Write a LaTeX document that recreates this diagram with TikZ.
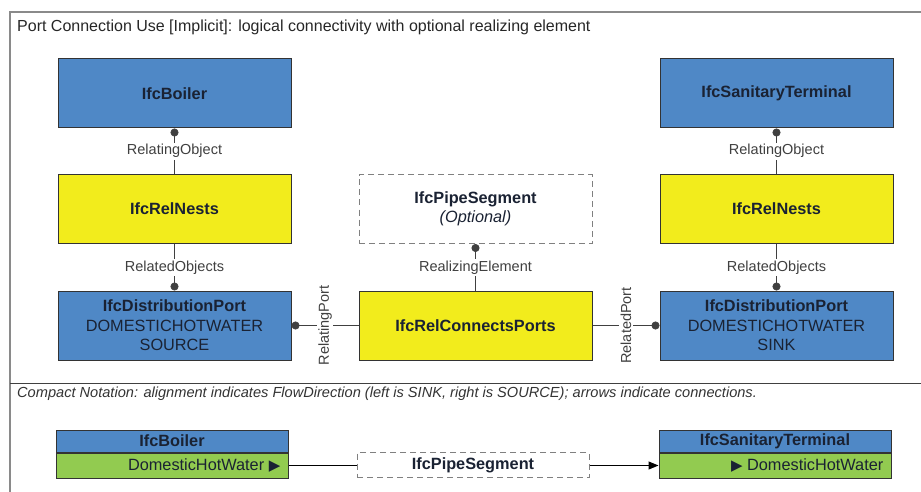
\documentclass[tikz,border=0pt]{standalone}
\usepackage{fontspec}
\setmainfont{Liberation Sans}
\newfontfamily\symfont{DejaVu Sans}
\usetikzlibrary{arrows.meta}
\definecolor{ifcblue}{HTML}{4F88C6}
\definecolor{ifcyellow}{HTML}{F2EC1C}
\definecolor{ifcgreen}{HTML}{92CB50}
\definecolor{edgecol}{HTML}{333333}
\definecolor{framecol}{HTML}{8A8A8A}
\definecolor{labcol}{HTML}{404040}
\definecolor{boxtext}{HTML}{1A2233}
\tikzset{
  box/.style={draw=edgecol, line width=1pt, minimum width=233pt, minimum height=69pt, inner sep=0pt, align=center, font=\fontsize{16.3}{19.5}\selectfont, text=boxtext},
  bluebox/.style={box, fill=ifcblue},
  yellowbox/.style={box, fill=ifcyellow},
  dashbox/.style={box, draw=gray, dashed, dash pattern=on 6pt off 4pt, fill=white},
  conn/.style={draw=labcol, line width=0.8pt},
  dotend/.style={conn, -{Circle[length=8pt]}},
  lab/.style={fill=white, inner sep=1.5pt, text=labcol, font=\fontsize{14.5}{16}\selectfont},
  hdr/.style={draw=edgecol, line width=1pt, minimum width=232pt, minimum height=22pt, inner sep=0pt, fill=ifcblue, text=boxtext, font=\bfseries\fontsize{16.3}{19}\selectfont},
  grn/.style={draw=edgecol, line width=1pt, minimum width=232pt, minimum height=25pt, inner sep=0pt, fill=ifcgreen},
  gtext/.style={anchor=east, inner sep=0pt, text=boxtext, font=\fontsize{16.3}{19}\selectfont},
  framel/.style={draw=framecol, line width=1.3pt}
}
\begin{document}
\begin{tikzpicture}[x=1pt,y=-1pt]
\useasboundingbox (0,0) rectangle (921,492);
% frame
\draw[framel] (921,12) -- (10,12) -- (10,492);
\draw[draw=labcol, line width=1pt] (10,383) -- (921,383);
\node[anchor=west, inner sep=0pt, font=\fontsize{16}{18}\selectfont, text=black!85] (title) at (17,27) {Port Connection Use [Implicit]: logical connectivity with optional realizing element};
\node[anchor=west, inner sep=0pt, font=\itshape\fontsize{14.6}{16}\selectfont, text=black!80] (compact) at (17,394) {Compact Notation: alignment indicates FlowDirection (left is SINK, right is SOURCE); arrows indicate connections.};
% left column
\node[bluebox] (boiler) at (174.5,93.5) {\bfseries IfcBoiler};
\node[yellowbox] (nestsL) at (174.5,209) {\bfseries IfcRelNests};
\node[bluebox] (portL) at (174.5,325.5) {\textbf{IfcDistributionPort}\\DOMESTICHOTWATER\\SOURCE};
% middle column
\node[dashbox] (pipe) at (475.5,209) {\textbf{IfcPipeSegment}\\\itshape (Optional)};
\node[yellowbox] (rcp) at (475.5,325.5) {\bfseries IfcRelConnectsPorts};
% right column
\node[bluebox] (term) at (776.5,93.5) {\bfseries IfcSanitaryTerminal};
\node[yellowbox] (nestsR) at (776.5,209) {\bfseries IfcRelNests};
\node[bluebox] (portR) at (776.5,325.5) {\textbf{IfcDistributionPort}\\DOMESTICHOTWATER\\SINK};
% connectors
\draw[dotend] (nestsL.north) -- node[lab] (l1) {RelatingObject} (boiler.south);
\draw[dotend] (nestsL.south) -- node[lab] (l2) {RelatedObjects} (portL.north);
\draw[dotend] (nestsR.north) -- node[lab] (l3) {RelatingObject} (term.south);
\draw[dotend] (nestsR.south) -- node[lab] (l4) {RelatedObjects} (portR.north);
\draw[dotend] (rcp.north) -- node[lab] (l5) {RealizingElement} (pipe.south);
\draw[dotend] (rcp.west) -- node[lab, rotate=90] (l6) {RelatingPort} (portL.east);
\draw[dotend] (rcp.east) -- node[lab, rotate=90] (l7) {RelatedPort} (portR.west);
% compact notation
\node[hdr] (cboiler) at (172,441) {IfcBoiler};
\node[grn, anchor=north] (cboilerG) at (cboiler.south) {};
\node[gtext] (cbtext) at ([xshift=-8pt]cboilerG.east) {DomesticHotWater {\symfont\fontsize{15}{17}\selectfont ▶}};
\node[dashbox, minimum width=232pt, minimum height=25pt] (cpipe) at (473,465) {\bfseries IfcPipeSegment};
\node[hdr] (cterm) at (775,441) {IfcSanitaryTerminal};
\node[grn, anchor=north] (ctermG) at (cterm.south) {};
\node[gtext] (cttext) at ([xshift=-8pt]ctermG.east) {{\symfont\fontsize{15}{17}\selectfont ▶} DomesticHotWater};
\draw[draw=black, line width=1pt] (cboilerG.east) -- (cpipe.west |- cboilerG.east);
\draw[draw=black, line width=1pt, -{Triangle[length=10pt,width=8pt]}] (cpipe.east |- ctermG.west) -- (ctermG.west);
\end{tikzpicture}
\end{document}
